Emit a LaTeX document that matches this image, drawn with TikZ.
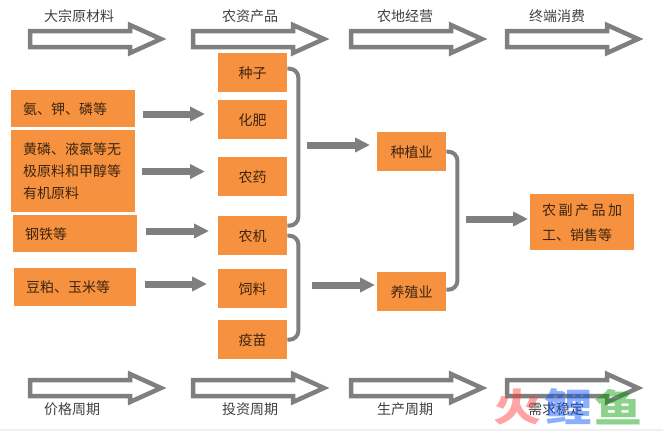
\documentclass[tikz,border=0pt]{standalone}
\usepackage{fontspec}
\setmainfont{Noto Sans CJK SC}
\usetikzlibrary{arrows.meta}
\definecolor{boxorange}{HTML}{F6923F}
\definecolor{linegray}{HTML}{7F7F7F}
\definecolor{labelgray}{HTML}{404040}
\tikzset{
  stage label/.style={font=\fontsize{14}{16}\selectfont,text=labelgray,inner sep=0pt},
  product box/.style={fill=boxorange,minimum width=69pt,minimum height=39pt,inner sep=0pt,anchor=north west,font=\fontsize{14}{16}\selectfont,text=black!75!boxorange},
  source box/.style={fill=boxorange,text width=100pt,inner xsep=12pt,inner ysep=0pt,align=left,anchor=north west,font=\fontsize{14}{22}\selectfont,text=black!75!boxorange},
  stage arrow/.style={line width=4.5pt,draw=linegray,fill=white,miter limit=10},
  feed arrow/.style={line width=7pt,draw=linegray,-{Triangle[length=15pt,width=14pt]}},
  bracket line/.style={line width=4pt,draw=linegray,rounded corners=9pt},
  logo mark/.style={font=\fontsize{48}{48}\selectfont\bfseries,inner sep=0pt,transform shape,yscale=0.8,text opacity=0.45},
}
\newcommand{\drawStageArrow}[2]{
\draw[stage arrow] (#1,#2-8) -- ++(100,0) -- ++(0,-6) -- ++(31,14) -- ++(-31,14) -- ++(0,-6) -- ++(-100,0) -- cycle;
}
\begin{document}
\begin{tikzpicture}[x=1pt,y=-1pt]
\useasboundingbox (0,0) rectangle (663,431);
\fill[black!6] (0,429) rectangle (663,431);
\foreach \x in {30,193,351,507}{
  \drawStageArrow{\x}{39}
  \drawStageArrow{\x}{388}
}
\node[stage label] (rawlabel) at (79,16) {大宗原材料};
\node[stage label] (inputlabel) at (250,16) {农资产品};
\node[stage label] (farmlabel) at (405,16) {农地经营};
\node[stage label] (enduselabel) at (557,16) {终端消费};
\node[stage label] (pricelabel) at (72,409) {价格周期};
\node[stage label] (investlabel) at (250,409) {投资周期};
\node[stage label] (produclabel) at (405,409) {生产周期};
\node[stage label] (demandlabel) at (556,409) {需求稳定};
% product column
\node[product box] (zhongzi) at (218,53) {种子};
\node[product box] (huafei) at (218,100) {化肥};
\node[product box] (nongyao) at (218,157) {农药};
\node[product box] (nongji) at (218,216) {农机};
\node[product box] (siliao) at (218,269) {饲料};
\node[product box] (yimiao) at (218,320) {疫苗};
% raw materials
\node[source box,minimum height=37pt] (anlin) at (11,90) {氨、钾、磷等};
\node[source box,minimum height=82pt] (huanglin) at (11,130) {黄磷、液氯等无\\极原料和甲醇等\\有机原料};
\node[source box,minimum height=37pt] (gangtie) at (13,215) {钢铁等};
\node[source box,minimum height=38pt,text width=98pt] (doupo) at (14,268) {豆粕、玉米等};
\node[product box] (zhongzhi) at (377,132) {种植业};
\node[product box] (yangzhi) at (377,272) {养殖业};
\node[product box,minimum width=104pt,minimum height=56pt,align=left,font=\fontsize{14}{25}\selectfont] (jiagong) at (530,194) {\makebox[80pt][s]{农\hfil 副\hfil 产\hfil 品\hfil 加}\\\makebox[80pt][l]{工、销售等}};
% connectors
\coordinate (rowa) at (0,114);
\coordinate (rowb) at (0,171.5);
\coordinate (rowc) at (0,231);
\coordinate (rowd) at (0,284);
\coordinate (rowe) at (0,145);
\coordinate (rowf) at (0,285);
\coordinate (rowg) at (0,219);
\draw[feed arrow,shorten <=8pt,shorten >=13pt] (anlin.east |- rowa) -- (huafei.west |- rowa);
\draw[feed arrow,shorten <=7pt,shorten >=13pt] (huanglin.east |- rowb) -- (nongyao.west |- rowb);
\draw[feed arrow,shorten <=9pt,shorten >=9pt] (gangtie.east |- rowc) -- (nongji.west |- rowc);
\draw[feed arrow,shorten <=9pt,shorten >=11pt] (doupo.east |- rowd) -- (siliao.west |- rowd);
\draw[feed arrow,shorten <=20pt,shorten >=7pt] (nongyao.east |- rowe) -- (zhongzhi.west |- rowe);
\draw[feed arrow,shorten <=25pt,shorten >=2pt] (siliao.east |- rowf) -- (yangzhi.west |- rowf);
\draw[feed arrow,shorten <=20pt,shorten >=2pt] (zhongzhi.east |- rowg) -- (jiagong.west |- rowg);
\draw[bracket line] ([yshift=4pt]zhongzi.east) -- ++(11,0) |- ([yshift=10pt]nongji.east);
\draw[bracket line] (nongji.east) -- ++(11,0) |- (yimiao.east);
\draw[bracket line] (zhongzhi.east) -- ++(11,0) |- ([yshift=2pt]yangzhi.east);
% watermark
\node[logo mark,text=red!80!white] (logohuo) at (517,407) {火};
\node[logo mark,text=blue!70!cyan] (logoli) at (568,407) {鲤};
\node[logo mark,text=green!60!black] (logoyu) at (618,407) {鱼};
\end{tikzpicture}
\end{document}
